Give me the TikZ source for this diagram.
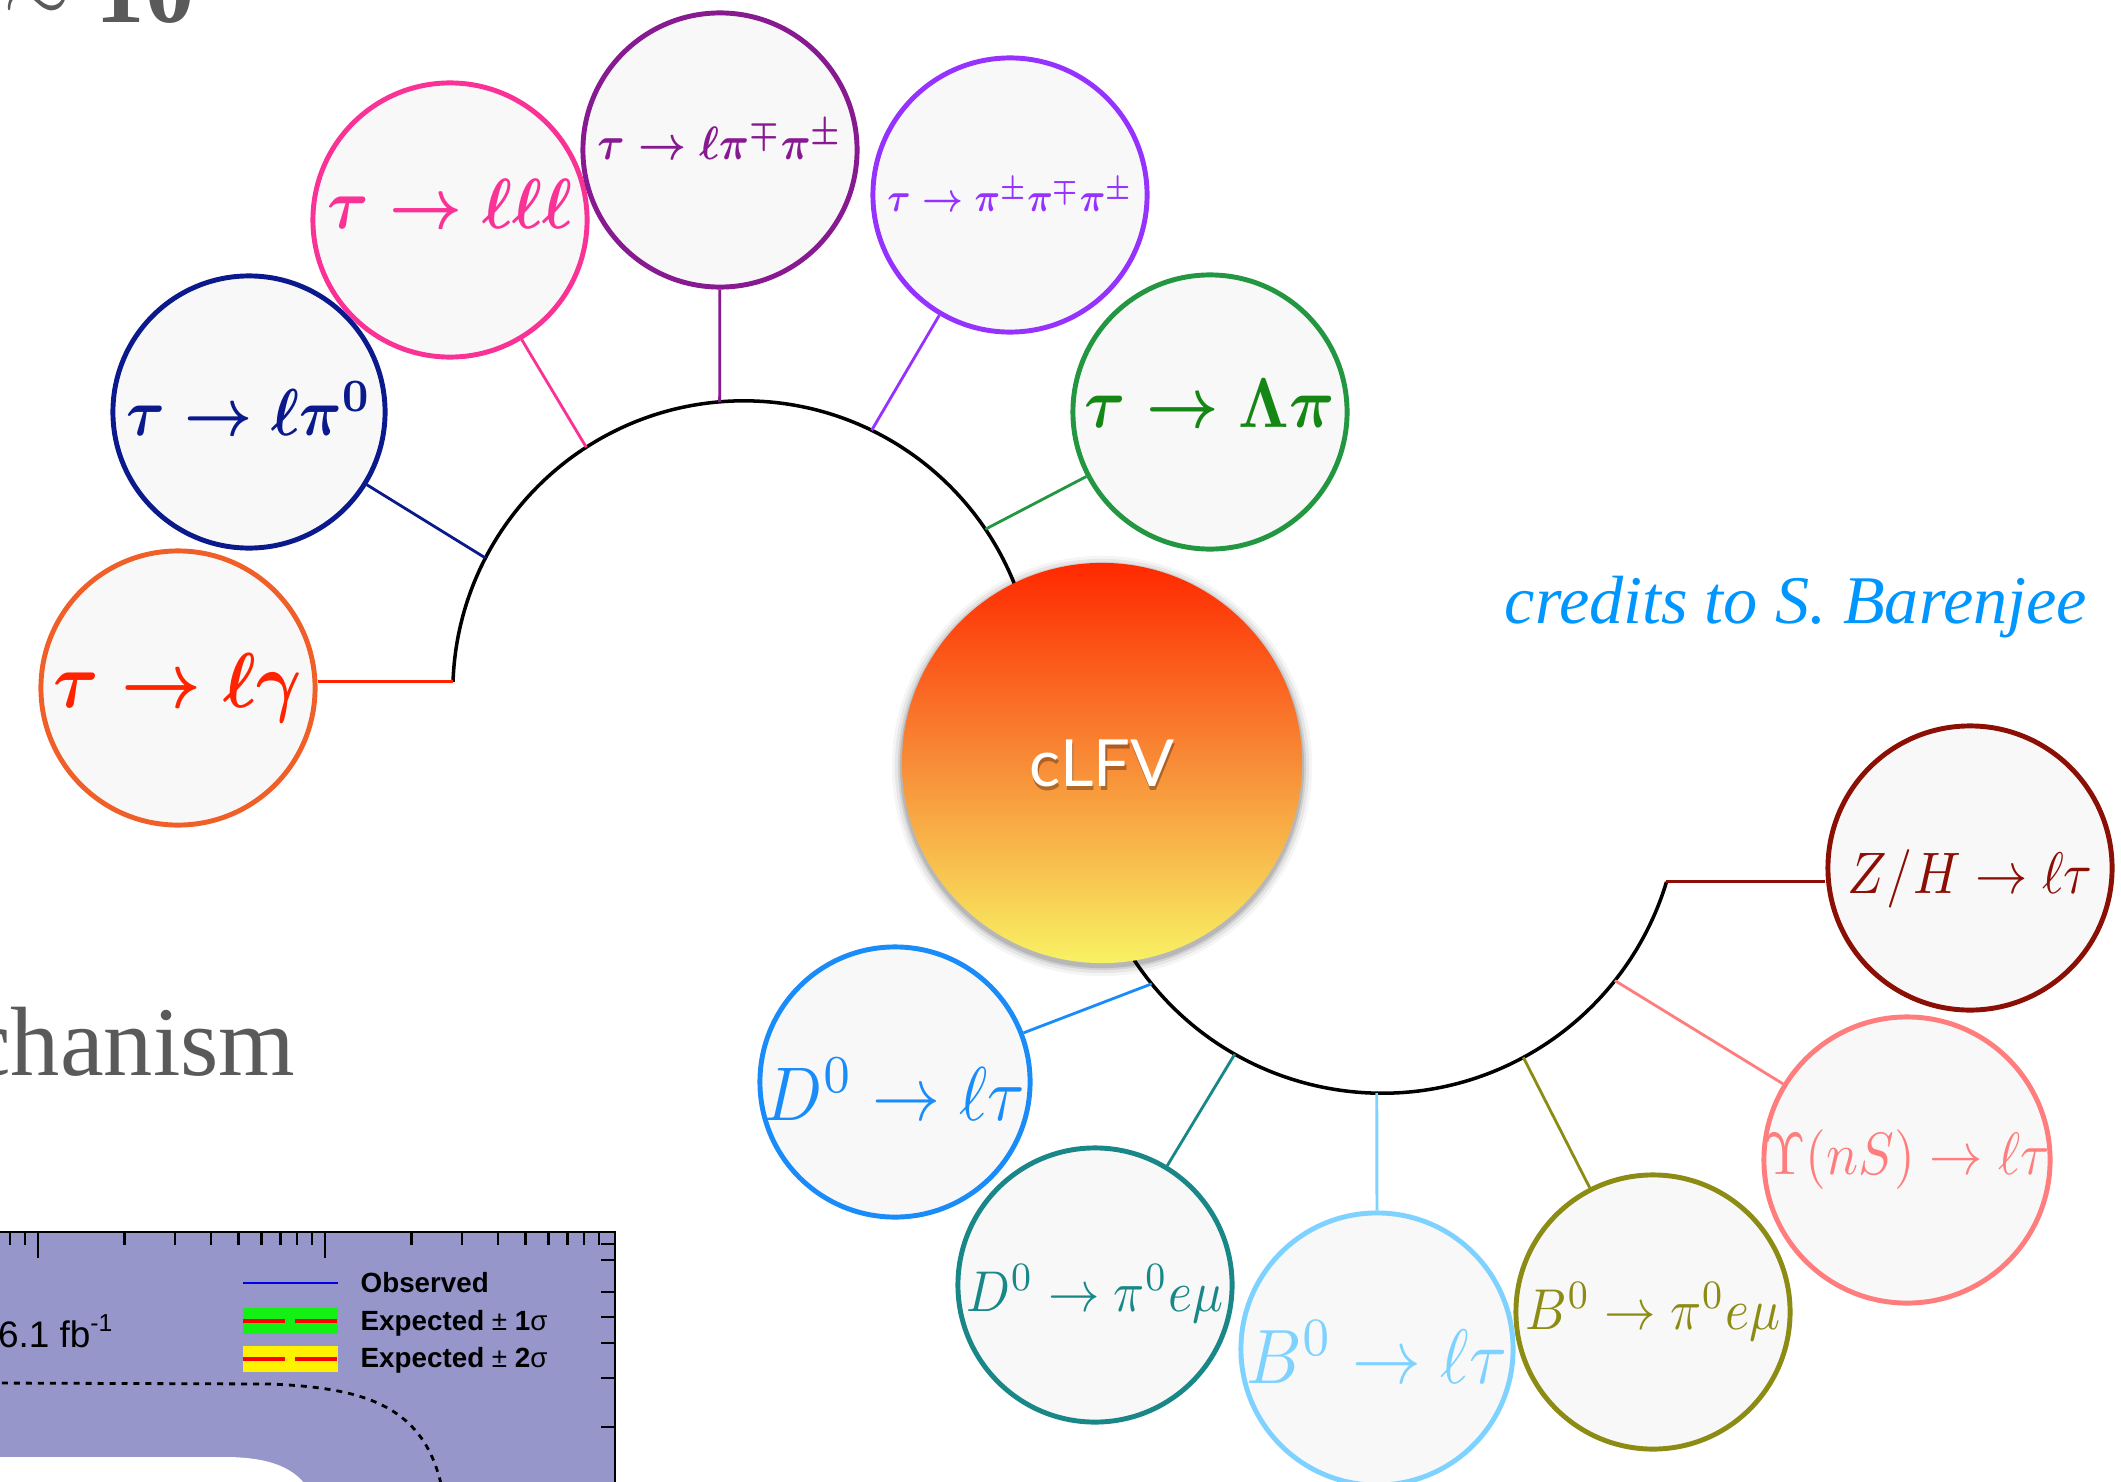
\documentclass[tikz,border=0pt]{standalone}
\usepackage{fontspec}
\usepackage{graphicx}
\usetikzlibrary{calc}
\newfontfamily\slideserif{Liberation Serif}
\newfontfamily\plotsans{Liberation Sans}
\newfontfamily\clfvfont{Lato}
\definecolor{cgamma}{RGB}{240,95,40}
\definecolor{tgamma}{RGB}{255,35,0}
\definecolor{cpi0}{RGB}{10,25,140}
\definecolor{clll}{RGB}{250,50,150}
\definecolor{clpp}{RGB}{135,25,145}
\definecolor{cppp}{RGB}{150,50,255}
\definecolor{clam}{RGB}{35,150,65}
\definecolor{tlam}{RGB}{20,135,20}
\definecolor{czh}{RGB}{140,15,5}
\definecolor{cups}{RGB}{255,125,125}
\definecolor{cbpe}{RGB}{140,140,20}
\definecolor{cblt}{RGB}{125,210,255}
\definecolor{cdpe}{RGB}{25,135,135}
\definecolor{cdlt}{RGB}{25,140,250}
\definecolor{slidegray}{RGB}{90,90,90}
\definecolor{credit}{RGB}{0,150,255}
\definecolor{plotbg}{RGB}{150,150,202}
\definecolor{leggreen}{RGB}{20,240,20}
\definecolor{legblue}{RGB}{0,0,230}
\definecolor{ctop}{RGB}{255,40,0}
\definecolor{cmid}{RGB}{248,140,55}
\definecolor{cbot}{RGB}{248,242,100}
\definecolor{bubble}{RGB}{248,248,248}
% width-fitted, slightly taller text, optionally raised without moving the circle
\newcommand{\fitw}[3][0pt]{\makebox[0pt]{\raisebox{#1}[\height][\depth]{\scalebox{1}[1.12]{\resizebox{#2}{!}{#3}}}}}
\tikzset{
  bub/.style={circle, draw=#1, fill=bubble, line width=1.4pt, minimum size=2.74cm, inner sep=0pt, text=#1},
  link/.style={draw=#1, line width=0.8pt},
  spine/.style={draw=black, line width=1pt},
  slidetext/.style={inner sep=0pt, text=slidegray},
  tick/.style={draw=black, line width=0.7pt},
  legtext/.style={anchor=base west, inner sep=0pt, font=\plotsans\bfseries\fontsize{7.9}{9}\selectfont},
  legdash/.style={draw=red, line width=1pt, dash pattern=on 11.9pt off 2.85pt},
}
\begin{document}
\begin{tikzpicture}[x=0.01cm, y=-0.01cm]
\useasboundingbox (0,0) rectangle (2121,1482);
\fill[white] (0,0) rectangle (2121,1482);
\begin{scope}
\clip (0,0) rectangle (2121,1482);
% remnants of the slide
\node[slidetext, anchor=base east, font=\slideserif\bfseries\fontsize{28}{30}\selectfont] (ten) at (195,23) {$\sim$ 10};
\node[slidetext, anchor=base east, font=\slideserif\fontsize{28}{30}\selectfont] (mech) at (296,1075) {chanism};
% plot fragment
\fill[plotbg] (-10,1232) rectangle (615,1500);
\fill[white] (-10,1457) -- (229,1457) .. controls (275,1458) and (302,1470) .. (314,1500) -- (-10,1500) -- cycle;
\draw[line width=0.8pt, dash pattern=on 1.7pt off 1.7pt] (-10,1383) -- (270,1384) .. controls (365,1388) and (430,1405) .. (444,1500);
\draw[line width=0.8pt] (-10,1232) -- (615,1232) -- (615,1500);
\foreach \tx in {10.2,24.9,124.4,174.9,210.8,238.6,261.4,280.6,297.2,311.9,411.4,461.9,497.8,525.6,548.4,567.6,584.2,598.9}
  \draw[tick] (\tx,1232) -- (\tx,1245);
\foreach \tx in {38,325} \draw[tick] (\tx,1232) -- (\tx,1258);
\foreach \ty in {1244,1260,1292,1317,1343,1378,1427} \draw[tick] (615,\ty) -- (601,\ty);
\node[anchor=base east, inner sep=0pt, font=\plotsans\fontsize{10.5}{12}\selectfont] (lumi) at (113,1347) {36.1 fb\raisebox{0.8ex}{\fontsize{7}{8}\selectfont -1}};
\draw[draw=legblue, line width=0.8pt] (243,1283) -- (338,1283);
\fill[leggreen] (243,1308) rectangle (338,1334);
\draw[legdash] (243,1321) -- (338,1321);
\fill[yellow] (243,1346) rectangle (338,1372);
\draw[legdash] (243,1359) -- (338,1359);
\node[legtext] (obs) at (360,1292) {Observed};
\node[legtext] (exp1) at (360,1330) {Expected {\mdseries ±} 1{\mdseries σ}};
\node[legtext] (exp2) at (360,1367) {Expected {\mdseries ±} 2{\mdseries σ}};
% credits
\node[anchor=base west, inner sep=0pt, text=credit, font=\slideserif\itshape\fontsize{19.4}{22}\selectfont] (cred) at (1504,623) {credits to S.\ Barenjee};
% spines
\coordinate (uc) at (744,692);
\coordinate (lc) at (1382,796);
\coordinate (u0) at ($(uc)+(178:2.91cm)$);
\coordinate (u1) at ($(uc)+(152.6:2.91cm)$);
\coordinate (u2) at ($(uc)+(122.8:2.91cm)$);
\coordinate (u3) at ($(uc)+(94.8:2.91cm)$);
\coordinate (u4) at ($(uc)+(64:2.91cm)$);
\coordinate (u5) at ($(uc)+(34:2.91cm)$);
\coordinate (l0) at ($(lc)+(-150:2.97cm)$);
\coordinate (d1) at ($(lc)+(-140.8:2.97cm)$);
\coordinate (d2) at ($(lc)+(-119.7:2.97cm)$);
\coordinate (d3) at ($(lc)+(-91:2.97cm)$);
\coordinate (d4) at ($(lc)+(-61.6:2.97cm)$);
\coordinate (d5) at ($(lc)+(-38.4:2.97cm)$);
\coordinate (d6) at ($(lc)+(-16.8:2.97cm)$);
\draw[spine] (u0) arc[start angle=178, end angle=10, radius=2.91cm];
\draw[spine] (l0) arc[start angle=-150, end angle=-16.8, radius=2.97cm];
% central bubble
\foreach \rr/\op in {2.10cm/0.04, 2.07cm/0.06, 2.04cm/0.09, 2.02cm/0.12}
  \fill[black, opacity=\op] (1102,766) circle[radius=\rr];
\node[circle, minimum size=4cm, inner sep=0pt, top color=ctop, bottom color=cbot, middle color=cmid] (clfv) at (1102,763) {};
\node[text=black, opacity=0.3, font=\clfvfont\fontsize{18.5}{20}\selectfont] (clfvs) at ($(clfv)+(0.4pt,-1.2pt)$) {cLFV};
\node[text=white, font=\clfvfont\fontsize{18.5}{20}\selectfont] (clfvt) at (clfv) {cLFV};
% process bubbles
\node[bub=cgamma, text=tgamma] (lg) at (178,688) {\fitw{2.48cm}{\boldmath$\tau\to\ell\gamma$}};
\node[bub=cpi0, minimum size=2.72cm] (lpi) at (249,412) {\fitw[1pt]{2.45cm}{\boldmath$\tau\to\ell\pi^0$}};
\node[bub=clll] (lll) at (450,220) {\fitw[4.5pt]{2.45cm}{\boldmath$\tau\to\ell\ell\ell$}};
\node[bub=clpp] (lpp) at (720,150) {\fitw[3pt]{2.45cm}{\boldmath$\tau\to\ell\pi^\mp\pi^\pm$}};
\node[bub=cppp] (ppp) at (1010,195) {\fitw{2.45cm}{\boldmath$\tau\to\pi^\pm\pi^\mp\pi^\pm$}};
\node[bub=clam, text=tlam] (lam) at (1210,412) {\fitw[2.5pt]{2.5cm}{\boldmath$\tau\to\Lambda\pi$}};
\node[bub=czh, minimum size=2.84cm] (zh) at (1970,868) {\fitw[-3pt]{2.45cm}{$Z/H\to\ell\tau$}};
\node[bub=cups, minimum size=2.86cm] (ups) at (1907,1160) {\fitw{2.85cm}{$\Upsilon(nS)\to\ell\tau$}};
\node[bub=cbpe] (bpe) at (1653,1312) {\fitw{2.54cm}{$B^0\to\pi^0e\mu$}};
\node[bub=cblt, minimum size=2.72cm] (blt) at (1377,1349) {\fitw[-1pt]{2.6cm}{$B^0\to\ell\tau$}};
\node[bub=cdpe] (dpe) at (1095,1285) {\fitw[-2.5pt]{2.56cm}{$D^0\to\pi^0e\mu$}};
\node[bub=cdlt, minimum size=2.70cm] (dlt) at (895,1082) {\fitw[-2pt]{2.6cm}{$D^0\to\ell\tau$}};
% connectors
\draw[link=tgamma] (u0) -- (u0 -| lg.east);
\draw[link=cpi0] (u1) -- (lpi);
\draw[link=clll] (u2) -- (lll);
\draw[link=clpp] (u3) -- (lpp);
\draw[link=cppp] (u4) -- (ppp);
\draw[link=clam] (u5) -- (lam);
\draw[link=cdlt] (d1) -- (dlt);
\draw[link=cdpe] (d2) -- (dpe);
\draw[link=cblt] (d3) -- (blt);
\draw[link=cbpe] (d4) -- (bpe);
\draw[link=cups] (d5) -- (ups);
\draw[link=czh] (d6) -- (d6 -| zh.west);
\end{scope}
\end{tikzpicture}
\end{document}
